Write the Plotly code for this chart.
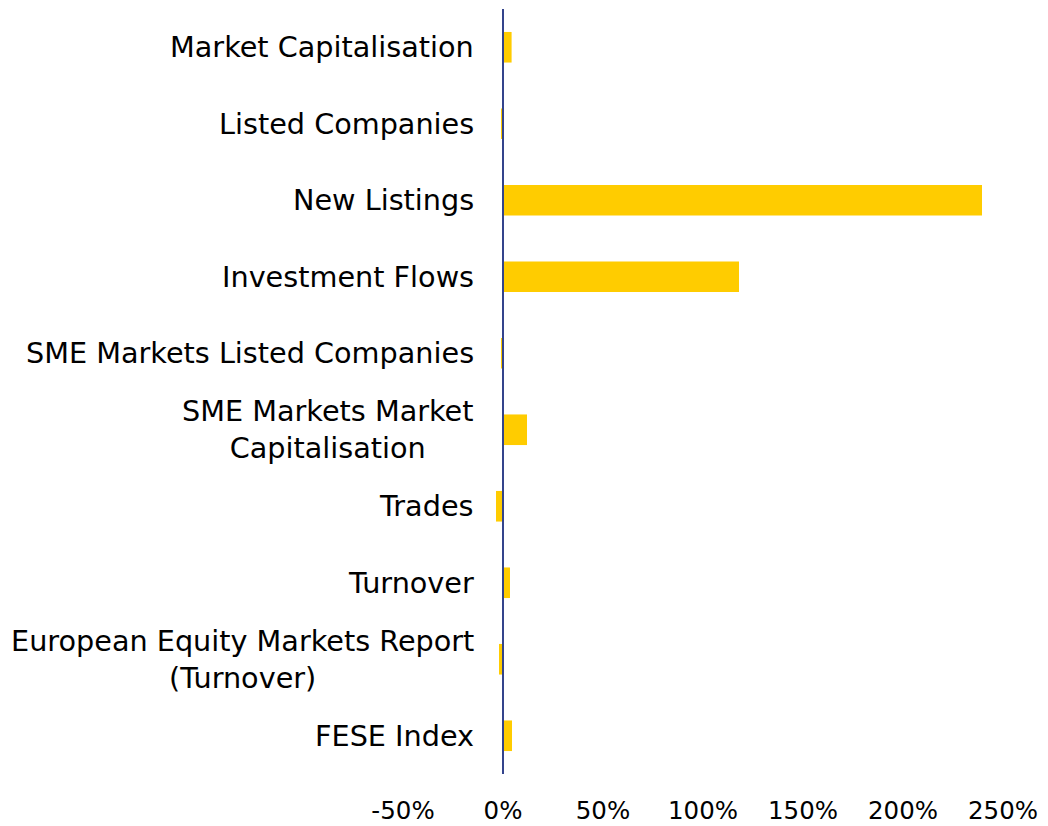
import plotly.graph_objects as go

categories = [
    "Market Capitalisation",
    "Listed Companies",
    "New Listings",
    "Investment Flows",
    "SME Markets Listed Companies",
    "SME Markets Market<br>Capitalisation",
    "Trades",
    "Turnover",
    "European Equity Markets Report<br>(Turnover)",
    "FESE Index",
]
values = [4.3, -0.6, 239.5, 118.0, -0.8, 12.0, -3.5, 3.5, -2.0, 4.5]
x_ticks = [-50, 0, 50, 100, 150, 200, 250]
x_tick_labels = ["-50%", "0%", "50%", "100%", "150%", "200%", "250%"]

FONT = "DejaVu Sans"

fig = go.Figure()
fig.add_trace(go.Bar(
    x=values,
    y=categories,
    orientation="h",
    width=0.4,
    marker=dict(color="#FFCC00", line=dict(width=0)),
    hoverinfo="x+y",
))

# Category labels as annotations (centered multi-line text, right-aligned block)
for c in categories:
    fig.add_annotation(
        x=-13.5, y=c, xref="x", yref="y",
        text=c, showarrow=False,
        xanchor="right", yanchor="middle", align="center",
        font=dict(family=FONT, size=28.7, color="#000000"),
    )

# vertical axis line at zero, above bars
fig.add_shape(
    type="line", xref="x", yref="paper",
    x0=0, x1=0, y0=0, y1=1,
    line=dict(color="#34448C", width=2),
    layer="above",
)

fig.update_layout(
    width=1040, height=818,
    paper_bgcolor="white", plot_bgcolor="white",
    margin=dict(l=395, r=45, t=1, b=52),
    showlegend=False,
    bargap=0.6,
    font=dict(family=FONT, color="#000000"),
)
fig.update_xaxes(
    range=[-50, 250],
    tickvals=x_ticks, ticktext=x_tick_labels,
    showgrid=False, zeroline=False, showline=False,
    ticks="", ticklabelstandoff=19,
    tickfont=dict(family=FONT, size=24.5, color="#000000"),
)
fig.update_yaxes(
    categoryorder="array", categoryarray=categories,
    autorange="reversed",
    showticklabels=False, showgrid=False, zeroline=False, showline=False,
    ticks="",
)

fig.write_html("out.html")
